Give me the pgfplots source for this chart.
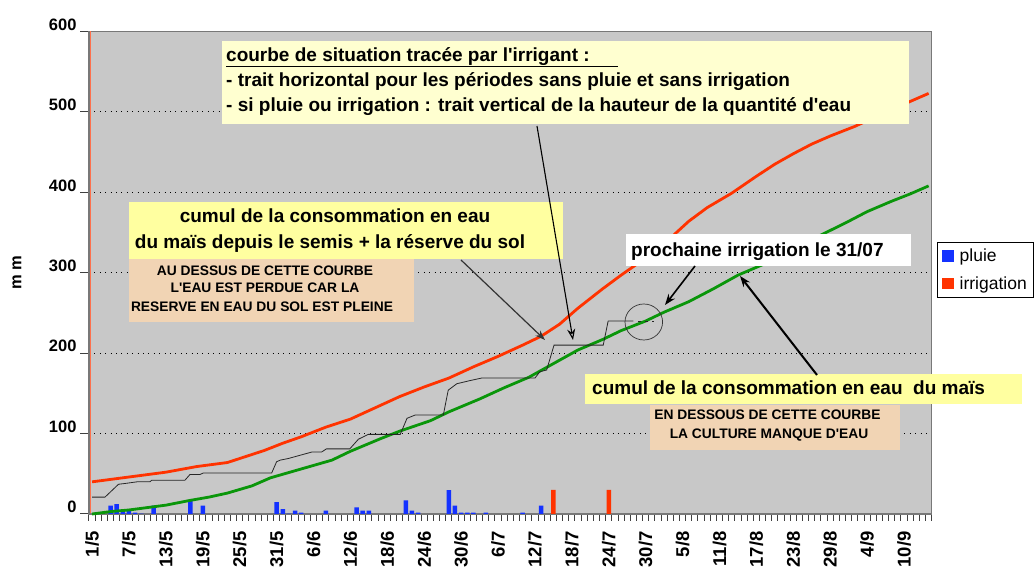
\documentclass[border=0pt]{standalone}
\usepackage{fontspec}
\setmainfont{Liberation Sans}
\usepackage{pgfplots}
\pgfplotsset{compat=1.18}
\usetikzlibrary{arrows.meta}
\definecolor{plotgray}{RGB}{200,200,200}
\definecolor{axgray}{RGB}{120,120,120}
\definecolor{rainblue}{RGB}{20,50,255}
\definecolor{irrred}{RGB}{255,51,0}
\definecolor{cropgreen}{RGB}{10,150,10}
\definecolor{paleyellow}{RGB}{255,255,208}
\definecolor{boxyellow}{RGB}{255,255,160}
\definecolor{tan}{RGB}{241,212,180}
\newcommand\q{\textquotesingle}
\newcommand\bigtxt{\bfseries\fontsize{19}{22}\selectfont}
\newcommand\caps{\bfseries\fontsize{13.8}{16}\selectfont}

\begin{document}
\begin{tikzpicture}
\begin{axis}[
  at={(0pt,0pt)}, anchor=south west,
  width=842.7pt, height=482.5pt, scale only axis,
  xmin=-0.5, xmax=136.5, ymin=0, ymax=600,
  axis background/.style={fill=plotgray},
  axis line style={draw=axgray, line width=1.2pt},
  ytick={0,100,...,600}, yticklabels={0,100,200,300,400,500,600},
  ymajorgrids, grid style={black, line width=0.9pt, dash pattern=on 1pt off 4.4pt},
  xtick={0,6,...,132},
  xticklabels={1/5,7/5,13/5,19/5,25/5,31/5,6/6,12/6,18/6,24/6,30/6,6/7,12/7,18/7,24/7,30/7,5/8,11/8,17/8,23/8,29/8,4/9,10/9},
  minor xtick={-0.5,0.5,...,136.5},
  tick align=outside, tick pos=left,
  major tick length=9pt, minor tick length=7pt,
  major x tick style={draw=none},
  minor x tick style={draw=black!75, line width=1pt},
  major y tick style={draw=black!75, line width=1pt},
  xticklabel shift=5pt,
  xticklabel style={rotate=90, anchor=east, font=\bfseries\fontsize{18.5}{18.5}\selectfont},
  yticklabel style={font=\bfseries\fontsize{16.5}{16.5}\selectfont, yshift=7pt},
  legend style={at={(1.006,0.564)}, anchor=north west, draw=black, line width=0.8pt,
    fill=white, font=\fontsize{17.5}{20}\selectfont, inner xsep=5pt, inner ysep=5pt,
    row sep=9pt, /tikz/every odd column/.append style={column sep=4pt}},
  legend cell align=left,
  clip=false,
]
% pluie (mm)
\addplot[ybar, bar width=4.5pt, bar shift=0pt, fill=rainblue, draw=none,
  legend image code/.code={\fill[rainblue] (0pt,-5.5pt) rectangle (11.5pt,6pt);}]
  coordinates {
  (3,10.3) (4,12.4) (5,5.8) (6,4.1) (7,1.6) (8,0.5) (10,10.3) (16,17.3) (18,10.3)
  (30,14.9) (31,6.2) (32,0.5) (33,4.1) (34,1.6) (38,4.1) (43,8.3) (44,4.1) (45,4.1)
  (51,17) (52,4.1) (53,1.6) (58,29.7) (59,10.3) (60,1.6) (61,1.6) (62,1.6) (64,1.6)
  (70,1.6) (73,10.3)
};
\addlegendentry{pluie}
% irrigation (mm)
\addplot[ybar, bar width=4.5pt, bar shift=0pt, fill=irrred, draw=none,
  legend image code/.code={\fill[irrred] (0pt,-5.5pt) rectangle (11.5pt,6pt);}]
  coordinates {(75,30) (84,30)};
\addlegendentry{irrigation}
% consommation + reserve du sol
\addplot[irrred, line width=2.8pt, forget plot] coordinates {
  (0,40) (4,44) (8,48) (12,52) (17,59) (22,64) (28,79) (31,88) (34,96) (38,108)
  (42,118) (46,132) (50,146) (54,158) (58,169) (62,183) (66,196) (70,210) (73,221)
  (76,236) (79,256) (83,280) (86,297) (89,313) (93,336) (97,364) (100,381) (104,399)
  (108,420) (111,435) (114,448) (117,460) (120,470) (124,482) (128,496) (133,513)
  (136,523)
};
% consommation du mais
\addplot[cropgreen, line width=2.8pt, forget plot] coordinates {
  (0,0) (3,3) (6,5) (9,8) (12,11) (16,17) (19,21) (22,26) (26,35) (29,45) (34,56)
  (39,67) (42,78) (47,94) (50,103) (55,116) (58,127) (63,143) (67,157) (71,170)
  (75,187) (79,204) (83,217) (86,228) (90,240) (93,251) (97,264) (101,280) (105,297)
  (109,310) (112,322) (115,333) (118,345) (123,364) (126,376) (130,389) (133,398)
  (136,408)
};
% courbe de situation
\addplot[black!85, line width=0.8pt, forget plot] coordinates {
  (0,21) (2.1,21) (4.3,37) (5.4,38) (7.3,40) (9.4,40) (9.7,42) (15.1,42) (15.9,49)
  (17.5,49) (18.1,51) (29.2,51) (30,65) (30.6,67) (31.9,69) (33.8,73) (35.7,77)
  (37.3,77) (38.1,81) (41.9,81) (43.3,93) (44.9,99) (50.1,99) (51.2,119) (52.5,123)
  (57.1,123) (57.9,154) (59.3,162) (61.5,166) (63.3,169) (72,169)
  (72.8,177) (73.9,179) (75.1,210) (83.1,210) (83.9,240) (88,240)
};
\addplot[black!85, line width=0.8pt, dash pattern=on 3pt off 4pt, forget plot]
  coordinates {(88.8,240) (91.3,240)};
\end{axis}

\begin{scope}[x=1pt, y=-1pt, shift={(-89pt,514pt)}]
\draw[irrred!70, line width=0.4pt] (90.4,31.5) -- (90.4,513);
\node[rotate=90, font=\bfseries\fontsize{16.5}{18}\selectfont] at (17,273) {m m};
% top note
\fill[paleyellow] (221.5,41) rectangle (909,124.5);
\node[anchor=base west, inner sep=0pt, font=\bigtxt] at (226,62) {courbe de situation tracée par l\q irrigant :};
\draw[line width=1.5pt] (226,66.5) -- (618,66.5);
\node[anchor=base west, inner sep=0pt, font=\bigtxt] at (226,86.5) {- trait horizontal pour les périodes sans pluie et sans irrigation};
\node[anchor=base west, inner sep=0pt, font=\bigtxt] at (226,112) {- si pluie ou irrigation : trait vertical de la hauteur de la quantité d\q eau};
% upper curve note
\fill[boxyellow] (128.5,202.3) rectangle (563.3,259);
\node[anchor=base, inner sep=0pt, font=\bigtxt] at (335,222.5) {cumul de la consommation en eau};
\node[anchor=base, inner sep=0pt, font=\bigtxt] at (330,249) {du maïs depuis le semis + la réserve du sol};
\fill[tan] (128.5,259) rectangle (414,321.7);
\node[anchor=base, inner sep=0pt, font=\caps] at (265,276) {AU DESSUS DE CETTE COURBE};
\node[anchor=base, inner sep=0pt, font=\caps] at (265,292.7) {L\q EAU EST PERDUE CAR LA};
\node[anchor=base, inner sep=0pt, font=\caps] at (262,311.7) {RESERVE EN EAU DU SOL EST PLEINE};
% next irrigation
\fill[white] (626,234) rectangle (911,266);
\node[anchor=base west, inner sep=0pt, font=\bigtxt] at (631,256.5) {prochaine irrigation le 31/07};
% lower curve note
\fill[boxyellow] (585,374) rectangle (1022,404.3);
\node[anchor=base west, inner sep=0pt, font=\bigtxt] at (592,395) {cumul de la consommation en eau \ du maïs};
\fill[tan] (650,405) rectangle (900,450);
\node[anchor=base, inner sep=0pt, font=\caps] at (767.5,420) {EN DESSOUS DE CETTE COURBE};
\node[anchor=base, inner sep=0pt, font=\caps] at (769,439) {LA CULTURE MANQUE D\q EAU};
% arrows and circle
\draw[black, line width=1.1pt, -{Stealth[open, length=11pt, width=8pt]}] (537,126) -- (573,340);
\draw[black!80, line width=1.2pt, -{Stealth[length=10pt, width=7pt]}] (461,260) -- (545,340);
\draw[black, line width=1.6pt, -{Stealth[length=11pt, width=8pt]}] (695,266) -- (665,305);
\draw[black, line width=2pt, -{Stealth[length=11pt, width=8pt, fill=gray]}] (817,375) -- (740,276);
\draw[black!80, line width=0.7pt] (643.8,322) ellipse [x radius=18.8pt, y radius=18pt];
\end{scope}
\pgfresetboundingbox
\useasboundingbox (-89pt,-55pt) rectangle (946pt,514pt);
\end{tikzpicture}
\end{document}
